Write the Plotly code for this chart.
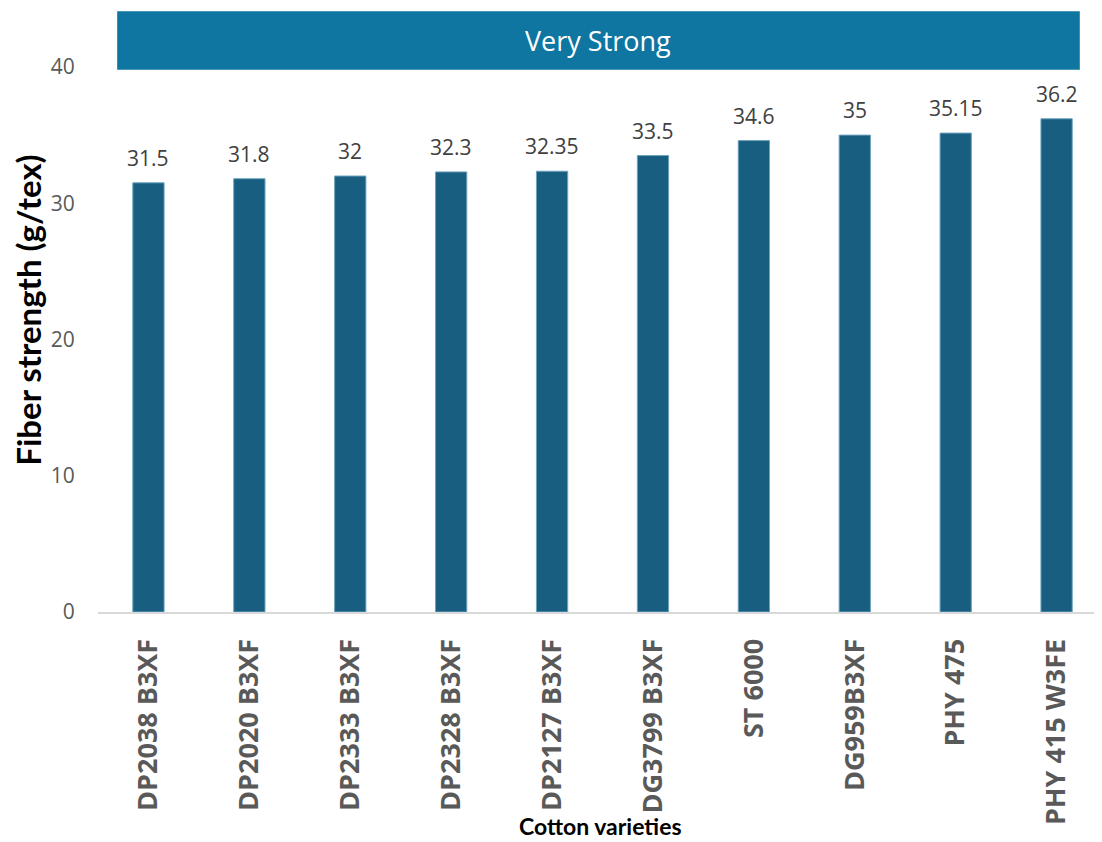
import plotly.graph_objects as go

categories = ["DP2038 B3XF", "DP2020 B3XF", "DP2333 B3XF", "DP2328 B3XF", "DP2127 B3XF",
              "DG3799 B3XF", "ST 6000", "DG959B3XF", "PHY 475", "PHY 415 W3FE"]
values = [31.5, 31.8, 32, 32.3, 32.35, 33.5, 34.6, 35, 35.15, 36.2]
value_labels = ["31.5", "31.8", "32", "32.3", "32.35", "33.5", "34.6", "35", "35.15", "36.2"]
y_ticks = [0, 10, 20, 30, 40]
banner_text = "Very Strong"

fig = go.Figure()
fig.add_trace(go.Bar(
    x=categories, y=values,
    marker=dict(color="#175E80", line=dict(color="#6FA3BE", width=1)),
    width=0.31,
    hoverinfo="skip",
))

for c, v, t in zip(categories, values, value_labels):
    fig.add_annotation(x=c, y=v, text=t, showarrow=False, yanchor="bottom", yshift=9,
                       font=dict(family="Open Sans", size=21, color="#404040"))

# banner
fig.add_shape(type="rect", xref="x", yref="y", x0=-0.31, x1=9.23, y0=39.8, y1=44.1,
              fillcolor="#0E76A0", line=dict(width=0), layer="above")
fig.add_annotation(x=(-0.31 + 9.23) / 2, y=41.95, xref="x", yref="y", text=banner_text,
                   showarrow=False, font=dict(family="Open Sans", size=27, color="white"))

# x axis title placed as annotation (overlaps label band like the reference)
fig.add_annotation(x=0.5, y=-0.355, xref="paper", yref="paper", text="<b>Cotton varieties</b>",
                   showarrow=False, xanchor="center", yanchor="middle", borderpad=0,
                   font=dict(family="Lato", size=23, color="black"))

fig.update_layout(
    width=1094, height=834,
    margin=dict(l=90, r=0, t=0, b=230),
    plot_bgcolor="white", paper_bgcolor="white",
    showlegend=False,
    bargap=0.69,
)
fig.update_xaxes(
    range=[-0.5, 9.45],
    automargin=False,
    tickangle=-90,
    tickfont=dict(family="Open Sans", size=27, color="#595959", weight="bold"),
    showline=True, linecolor="#D9D9D9", linewidth=2,
    ticks="outside", ticklen=14, tickcolor="rgba(0,0,0,0)",
    showgrid=False,
)
fig.update_yaxes(
    range=[0, 44.33],
    automargin=False,
    tickvals=y_ticks,
    tickfont=dict(family="Open Sans", size=21, color="#595959"),
    ticks="outside", ticklen=18, tickcolor="rgba(0,0,0,0)",
    showgrid=False, zeroline=False, showline=False,
    title=dict(text="<b>Fiber strength (g/tex)</b>", font=dict(family="Lato", size=33, color="black"), standoff=20),
)

fig.write_html("out.html")
